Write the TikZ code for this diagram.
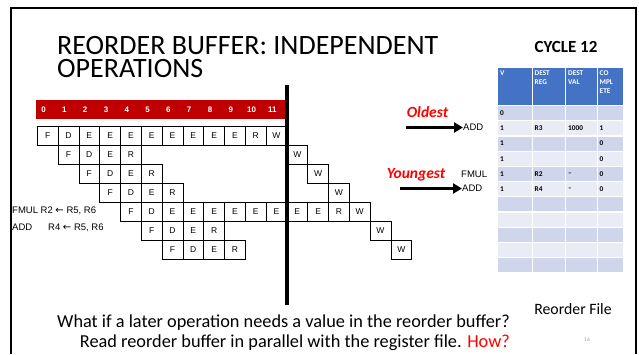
\documentclass[tikz,border=0pt]{standalone}
\usepackage{fontspec}
\setmainfont{Carlito}
\newfontfamily\arialf{Liberation Sans}
\newfontfamily\djv{DejaVu Sans}
\usetikzlibrary{arrows.meta}
\definecolor{robred}{HTML}{C00000}
\definecolor{hdrblue}{HTML}{4472C4}
\definecolor{bandA}{HTML}{CFD5EA}
\definecolor{bandB}{HTML}{E9EBF5}
\definecolor{pagegray}{HTML}{A0A0A0}
\tikzset{
  pcell/.style={draw, line width=0.6pt, minimum width=20.8pt, minimum height=19pt,
    inner sep=0pt, anchor=north west, font=\arialf\fontsize{8.5}{10}\selectfont},
  barnum/.style={text=white, inner sep=0pt, font=\arialf\bfseries\fontsize{8}{9}\selectfont},
  bigarrow/.style={line width=3.2pt, -{Triangle[length=9pt,width=10pt]}},
  oplabel/.style={inner sep=0pt, anchor=west, font=\arialf\fontsize{9.5}{11}\selectfont},
  redlabel/.style={inner sep=0pt, text=red, font=\bfseries\itshape\fontsize{15.5}{17}\selectfont},
  tcell/.style={draw=white, line width=1.2pt, anchor=north west, inner sep=0pt},
  ttext/.style={anchor=west, inner sep=0pt, font=\bfseries\fontsize{7.3}{8}\selectfont},
  htext/.style={anchor=north west, inner sep=0pt, align=left, text=white,
    font=\bfseries\fontsize{7.3}{8.6}\selectfont},
  titletext/.style={anchor=north west, inner sep=0pt, align=left, font=\fontsize{28}{22.5}\selectfont}
}
\newcommand\larr{{\djv\fontsize{10}{11}\selectfont ←}}
\newcommand\pcellat[4]{\node[pcell] (#1) at ({37+20.8*(#2)}, {126+19*(#3)}) {#4};}
\newcommand\piperow[3]{%
  \foreach \l [count=\i from 0] in {#3} {
    \pgfmathtruncatemacro\cc{#2+\i}
    \pcellat{c#1-\cc}{\cc}{#1}{\l}
  }}
\begin{document}
\begin{tikzpicture}[x=1pt,y=-1pt]
\useasboundingbox (0,0) rectangle (639,354);
% slide frame
\coordinate (fbl) at (11,354);
\coordinate (ftl) at (11,8);
\coordinate (ftr) at (636,8);
\coordinate (fbr) at (636,354);
\draw[line width=1.6pt] (fbl) -- (ftl) -- (ftr) -- (fbr);

% title
\node[titletext] (title) at (57,36.5) {REORDER BUFFER: INDEPENDENT\\OPERATIONS};

% cycle bar
\node[fill=robred, anchor=north west, minimum width=249pt, minimum height=19pt, inner sep=0pt] (bar) at (36,100) {};
\foreach \k in {0,...,11} {
  \node[barnum] (n\k) at ({43.6+20.8*\k}, 109.5) {\k};
}

% pipeline rows
\piperow{0}{0}{F,D,E,E,E,E,E,E,E,E,R,W}
\piperow{1}{1}{F,D,E,R}
\pcellat{w1}{12}{1}{W}
\piperow{2}{2}{F,D,E,R}
\pcellat{w2}{13}{2}{W}
\piperow{3}{3}{F,D,E,R}
\pcellat{w3}{14}{3}{W}
\piperow{4}{4}{F,D,E,E,E,E,E,E,E,E,R,W}
\piperow{5}{5}{F,D,E,R}
\pcellat{w5}{16}{5}{W}
\piperow{6}{6}{F,D,E,R}
\pcellat{w6}{17}{6}{W}

% instruction labels
\node[oplabel] (fmul) at (12,211) {FMUL R2 \larr\ R5, R6};
\node[oplabel] (addl) at (12,227.5) {\makebox[36pt][l]{ADD}R4 \larr\ R5, R6};

% cycle 12 line
\coordinate (vtop) at (287,85);
\coordinate (vbot) at (287,305);
\draw[line width=3.6pt] (vtop) -- (vbot);

% oldest / youngest
\node[redlabel] (oldest) at (427.5,112) {Oldest};
\node[oplabel] (add1) at (463,127.5) {ADD};
\coordinate (oa) at (406,127.5);
\draw[bigarrow] (oa) -- (add1.west);
\node[redlabel] (youngest) at (416,174.5) {Youngest};
\node[oplabel] (fmul2) at (461,174.5) {FMUL};
\node[oplabel] (add2) at (462,188.5) {ADD};
\coordinate (ya) at (400,188.5);
\draw[bigarrow] (ya) -- (add2.west);

% cycle label
\node[inner sep=0pt, font=\bfseries\fontsize{17}{18}\selectfont] (cycle) at (566,47) {CYCLE 12};

% reorder table
\def\colx{{497,531.5,565,596.5,623}}
\foreach \c in {0,1,2,3} {
  \pgfmathsetmacro\xa{\colx[\c]}
  \pgfmathsetmacro\xb{\colx[\c+1]}
  \node[tcell, fill=hdrblue, minimum width={\xb-\xa}, minimum height=38pt] (h\c) at (\xa,67) {};
  \foreach \r in {0,...,10} {
    \pgfmathsetmacro\ya{105+15.2*\r}
    \pgfmathtruncatemacro\band{mod(\r,2)}
    \ifnum\band=0 \def\bc{bandA}\else\def\bc{bandB}\fi
    \node[tcell, fill=\bc, minimum width={\xb-\xa}, minimum height=15.2pt] (t\r-\c) at (\xa,\ya) {};
  }
}
\node[htext] (hv) at ([shift={(3pt,-4pt)}]h0.north west) {V};
\node[htext] (hr) at ([shift={(3pt,-4pt)}]h1.north west) {DEST\\REG};
\node[htext] (hd) at ([shift={(3pt,-4pt)}]h2.north west) {DEST\\VAL};
\node[htext] (hc) at ([shift={(3pt,-4pt)}]h3.north west) {CO\\MPL\\ETE};

\node[ttext] at ([xshift=3pt]t0-0.west) {0};
\node[ttext] at ([xshift=3pt]t1-0.west) {1};
\node[ttext] at ([xshift=3pt]t1-1.west) {R3};
\node[ttext] at ([xshift=3pt]t1-2.west) {1000};
\node[ttext] at ([xshift=3pt]t1-3.west) {1};
\node[ttext] at ([xshift=3pt]t2-0.west) {1};
\node[ttext] at ([xshift=3pt]t2-3.west) {0};
\node[ttext] at ([xshift=3pt]t3-0.west) {1};
\node[ttext] at ([xshift=3pt]t3-3.west) {0};
\node[ttext] at ([xshift=3pt]t4-0.west) {1};
\node[ttext] at ([xshift=3pt]t4-1.west) {R2};
\node[ttext] at ([xshift=3pt]t4-2.west) {--};
\node[ttext] at ([xshift=3pt]t4-3.west) {0};
\node[ttext] at ([xshift=3pt]t5-0.west) {1};
\node[ttext] at ([xshift=3pt]t5-1.west) {R4};
\node[ttext] at ([xshift=3pt]t5-2.west) {--};
\node[ttext] at ([xshift=3pt]t5-3.west) {0};

\node[anchor=base, inner sep=0pt, font=\fontsize{15.8}{17}\selectfont] (rf) at (573,314) {Reorder File};
\node[inner sep=0pt, text=pagegray, font=\fontsize{5.5}{6}\selectfont] (pg) at (587,339.5) {16};

% bottom question
\node[anchor=base east, inner sep=0pt, font=\fontsize{18.3}{19}\selectfont] (q1) at (510,327.5) {What if a later operation needs a value in the reorder buffer?};
\node[anchor=base east, inner sep=0pt, font=\fontsize{18.3}{19}\selectfont] (q2) at (510,347.5) {Read reorder buffer in parallel with the register file. \textcolor{red}{How?}};
\end{tikzpicture}
\end{document}
